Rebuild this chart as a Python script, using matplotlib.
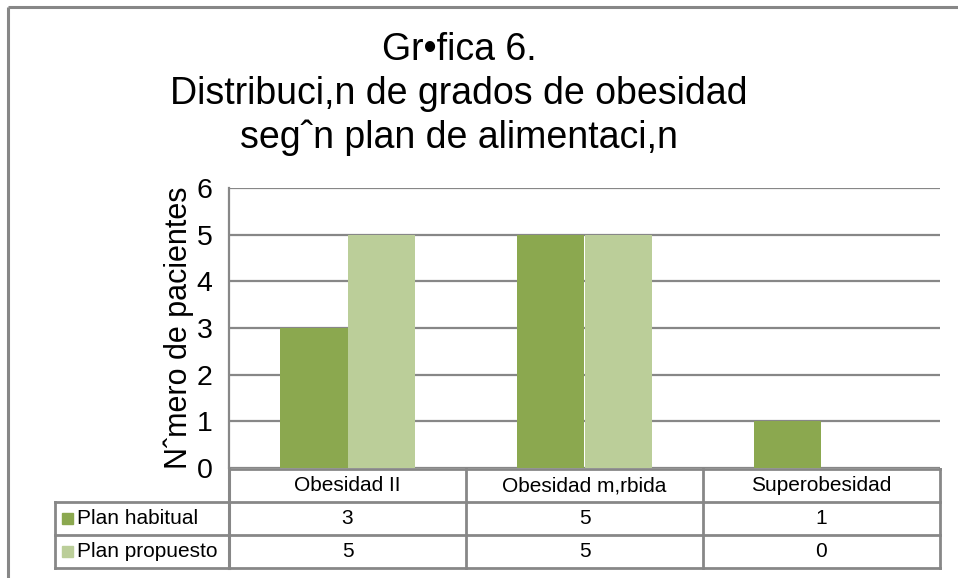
import numpy as np
import matplotlib
matplotlib.use("Agg")
import matplotlib.pyplot as plt
import matplotlib.transforms as mtransforms
from matplotlib.patches import Rectangle

plt.rcParams['font.family'] = ['Liberation Sans', 'DejaVu Sans']

# Datos de la gráfica
categorias = ['Obesidad II', 'Obesidad m,rbida', 'Superobesidad']
series = ['Plan habitual', 'Plan propuesto']
plan_habitual = [3, 5, 1]
plan_propuesto = [5, 5, 0]
valores = [plan_habitual, plan_propuesto]
colores = ['#8BA84F', '#BBCE99']
gris = '#878787'

W, H = 958, 578
fig = plt.figure(figsize=(W / 100, H / 100), dpi=100)

# Capa de fondo en pixeles (marco y tabla)
bg = fig.add_axes([0, 0, 1, 1])
bg.set_xlim(0, W)
bg.set_ylim(H, 0)
bg.axis('off')
bg.plot([8.5, W], [6.5, 6.5], color=gris, lw=2.2, solid_capstyle='butt')
bg.plot([8.5, 8.5], [6.5, H], color=gris, lw=2.2, solid_capstyle='butt')

# Área de la gráfica
x0, x1, y_top, y_bot = 229, 940, 188, 468
ax = fig.add_axes([x0 / W, 1 - y_bot / H, (x1 - x0) / W, (y_bot - y_top) / H])
x = np.arange(len(categorias))
w = 0.285
ax.bar(x - w / 2, plan_habitual, w, color=colores[0], zorder=3)
ax.bar(x + w / 2, plan_propuesto, w, color=colores[1], zorder=3)
ax.set_xlim(-0.5, len(categorias) - 0.5)
ax.set_ylim(0, 6)
ax.set_yticks(range(7))
ax.set_xticks([])
ax.yaxis.grid(True, color=gris, lw=1.6)
ax.set_axisbelow(True)
for s in ['top', 'right', 'bottom']:
    ax.spines[s].set_visible(False)
ax.spines['left'].set_color(gris)
ax.spines['left'].set_linewidth(1.6)
ax.tick_params(axis='y', length=0, labelsize=20.5, pad=12)
ax.set_ylabel('Nˆmero de pacientes', fontsize=22, labelpad=2)

# Título
titulo = ['Gr•fica 6.', 'Distribuci,n de grados de obesidad', 'segˆn plan de alimentaci,n']
fig.text(459 / W, 1 - 94 / H, '\n'.join(titulo), ha='center', va='center',
         fontsize=27, linespacing=1.27)

# Tabla de datos
rows_y = [469, 502, 535, 568]
bg.plot([x0, x1], [rows_y[0], rows_y[0]], color=gris, lw=2)
for yy in rows_y[1:]:
    bg.plot([55, x1], [yy, yy], color=gris, lw=2)
bg.plot([55, 55], [rows_y[1], rows_y[3]], color=gris, lw=2)
bg.plot([x0, x0], [y_bot, rows_y[3]], color=gris, lw=2.2)
trans = mtransforms.blended_transform_factory(ax.transData, bg.transData)
for i in range(len(categorias)):
    bg.plot([i + 0.5, i + 0.5], [rows_y[0], rows_y[3]], color=gris, lw=2, transform=trans)
    bg.text(i, (rows_y[0] + rows_y[1]) / 2, categorias[i], ha='center', va='center',
            fontsize=15, transform=trans)
    for j in range(len(series)):
        bg.text(i, (rows_y[j + 1] + rows_y[j + 2]) / 2, str(valores[j][i]), ha='center',
                va='center', fontsize=15, transform=trans)
for j in range(len(series)):
    yc = (rows_y[j + 1] + rows_y[j + 2]) / 2
    bg.add_patch(Rectangle((62, yc - 5.5), 11, 11, color=colores[j]))
    bg.text(77, yc, series[j], ha='left', va='center', fontsize=15)

fig.savefig('out.png', dpi=100)
